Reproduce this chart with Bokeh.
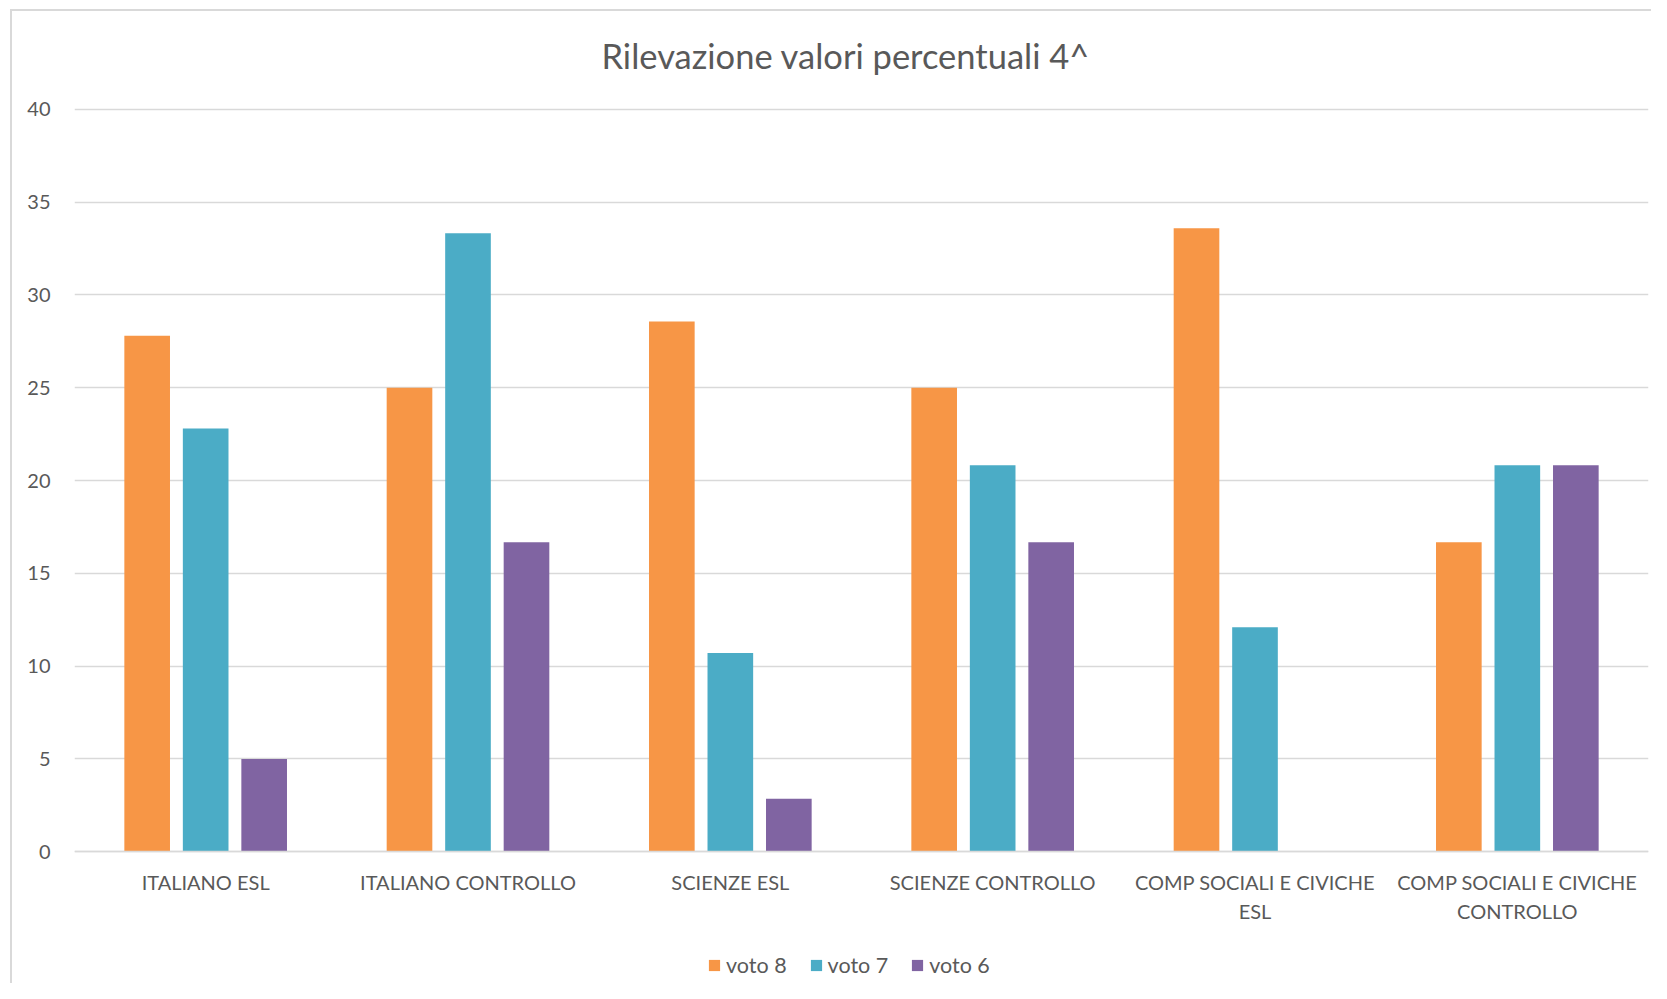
from bokeh.plotting import figure
from bokeh.models import (ColumnDataSource, FactorRange, Range1d, FixedTicker,
                          Legend, LegendItem)
from bokeh.transform import dodge
from bokeh.embed import file_html
from bokeh.resources import INLINE

# ---- data ----
categories = ["ITALIANO ESL", "ITALIANO CONTROLLO", "SCIENZE ESL", "SCIENZE CONTROLLO",
              "COMP SOCIALI E CIVICHE\nESL", "COMP SOCIALI E CIVICHE\nCONTROLLO"]
series_names = ["voto 8", "voto 7", "voto 6"]
voto8 = [27.8, 25.0, 28.57, 25.0, 33.6, 16.67]
voto7 = [22.8, 33.33, 10.71, 20.83, 12.1, 20.83]
voto6 = [5.0, 16.67, 2.86, 16.67, 0.0, 20.83]
y_ticks = [0, 5, 10, 15, 20, 25, 30, 35, 40]
title_text = "Rilevazione valori percentuali 4^"

colors = ["#F79646", "#4BACC6", "#8064A2"]
FONT = "Lato"
TXT = "#595959"

src = ColumnDataSource(dict(cat=categories, v8=voto8, v7=voto7, v6=voto6))

# frame extends to the canvas bottom; x axis is pinned at y = 0
p = figure(x_range=FactorRange(*categories), y_range=Range1d(-7.1, 40.1),
           width=1651, height=983, output_backend="svg", toolbar_location=None,
           min_border_left=74, min_border_right=3, min_border_top=105, min_border_bottom=0)
p.outline_line_color = None
p.background_fill_color = "white"
p.border_fill_color = None
p.styles = {
    "background-color": "white",
    "background-image": "linear-gradient(#d9d9d9, #d9d9d9), linear-gradient(#d9d9d9, #d9d9d9)",
    "background-size": "2px 100%, 100% 2px",
    "background-position": "10px 9px, 10px 9px",
    "background-repeat": "no-repeat",
}

p.title.text = title_text
p.title.align = "left"
p.title.offset = 527
p.title.text_font = FONT
p.title.text_font_size = "34.5px"
p.title.text_font_style = "normal"
p.title.text_color = TXT
p.title.standoff = 64

offs = [-0.223, 0.0, 0.223]
cols = ["v8", "v7", "v6"]
renderers = []
for c, o, col in zip(cols, offs, colors):
    r = p.vbar(x=dodge("cat", o, range=p.x_range), top=c, width=0.174, source=src,
               fill_color=col, line_color=None)
    renderers.append(r)

# axes
p.yaxis.ticker = FixedTicker(ticks=y_ticks)
p.yaxis.axis_line_color = None
p.yaxis.major_tick_line_color = None
p.yaxis.minor_tick_line_color = None
p.yaxis.major_label_text_font = FONT
p.yaxis.major_label_text_font_size = "20px"
p.yaxis.major_label_text_color = TXT
p.yaxis.major_label_standoff = 18

p.xaxis.fixed_location = 0
p.xaxis.axis_line_color = "#d9d9d9"
p.xaxis.axis_line_width = 1.5
p.xaxis.major_tick_line_color = None
p.xaxis.minor_tick_line_color = None
p.xaxis.major_label_text_font = FONT
p.xaxis.major_label_text_font_size = "20px"
p.xaxis.major_label_text_color = TXT
p.xaxis.major_label_standoff = 12
p.xaxis.major_label_text_line_height = 1.23

p.xgrid.grid_line_color = None
p.ygrid.grid_line_color = "#d9d9d9"
p.ygrid.grid_line_width = 1.5

# legend
legend = Legend(items=[LegendItem(label=n, renderers=[r]) for n, r in zip(series_names, renderers)],
                orientation="horizontal", location=(633, 5),
                glyph_width=14, glyph_height=14, label_standoff=5, spacing=22,
                padding=0, margin=0, border_line_color=None, background_fill_alpha=0,
                label_text_font=FONT, label_text_font_size="21.5px", label_text_color=TXT)
p.add_layout(legend, "center")

open("out.html", "w").write(file_html(p, INLINE))
